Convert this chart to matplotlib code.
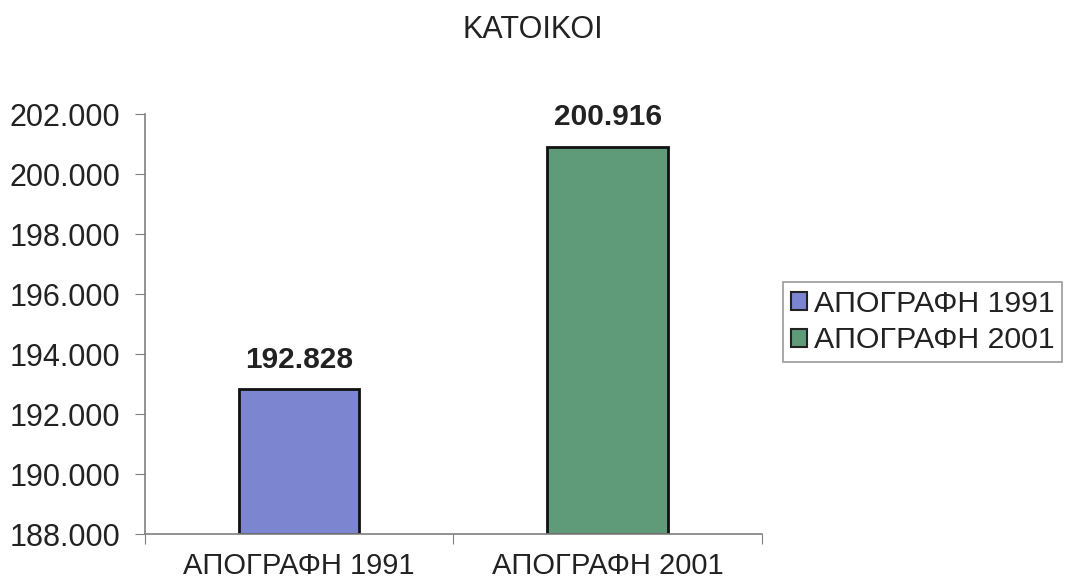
import matplotlib
matplotlib.use("Agg")
import matplotlib.pyplot as plt
from matplotlib.ticker import FuncFormatter, FixedLocator
from matplotlib.patches import Patch

plt.rcParams["font.family"] = ["Liberation Sans", "DejaVu Sans"]

title = "ΚΑΤΟΙΚΟΙ"
categories = ["ΑΠΟΓΡΑΦΗ 1991", "ΑΠΟΓΡΑΦΗ 2001"]
values = [192828, 200916]
colors = ["#7c85d0", "#5f9b79"]
y_min, y_max, y_step = 188000, 202000, 2000


def thousands(v, _pos=None):
    return f"{int(round(v)):,}".replace(",", ".")


fig = plt.figure(figsize=(10.7, 5.88), dpi=100)
ax = fig.add_axes([0.1355, 0.0918, 0.5765, 0.7142])

x = list(range(len(categories)))
ax.bar(x, [v - y_min for v in values], bottom=y_min, width=0.39,
       color=colors, edgecolor="#111111", linewidth=2)

for xi, v in zip(x, values):
    ax.annotate(thousands(v), (xi, v), xytext=(0, 11), textcoords="offset points",
                ha="center", va="bottom", fontsize=21.5, fontweight="bold", color="#222222")

ax.set_xlim(-0.5, len(categories) - 0.5)
ax.set_ylim(y_min, y_max)
ax.set_yticks(range(y_min, y_max + 1, y_step))
ax.yaxis.set_major_formatter(FuncFormatter(thousands))

# category boundaries as ticks, labels at the centres
ax.xaxis.set_major_locator(FixedLocator([i - 0.5 for i in range(len(categories) + 1)]))
ax.xaxis.set_minor_locator(FixedLocator(x))
ax.set_xticklabels([])
ax.set_xticklabels(categories, minor=True)
ax.tick_params(axis="x", which="major", direction="out", length=7, color="#808080")
ax.tick_params(axis="x", which="minor", length=0, pad=13, labelsize=21, labelcolor="#222222")
ax.tick_params(axis="y", direction="out", length=7, color="#808080", pad=11,
               labelsize=22, labelcolor="#222222")

for side in ("top", "right"):
    ax.spines[side].set_visible(False)
for side in ("left", "bottom"):
    ax.spines[side].set_color("#808080")
    ax.spines[side].set_linewidth(1.2)

fig.text(0.498, 0.949, title, ha="center", va="center", fontsize=22, color="#222222")

handles = [Patch(facecolor=c, edgecolor="#222222", linewidth=1.5) for c in colors]
leg = fig.legend(handles, categories, loc="center left", bbox_to_anchor=(0.732, 0.452),
                 fontsize=21.8, frameon=True, fancybox=False, handlelength=0.55,
                 handleheight=0.55, handletextpad=0.2, borderpad=0.25, labelspacing=0.28,
                 borderaxespad=0)
leg.get_frame().set_edgecolor("#808080")
leg.get_frame().set_linewidth(1.2)
for t in leg.get_texts():
    t.set_color("#222222")

fig.savefig("out.png", dpi=100)
